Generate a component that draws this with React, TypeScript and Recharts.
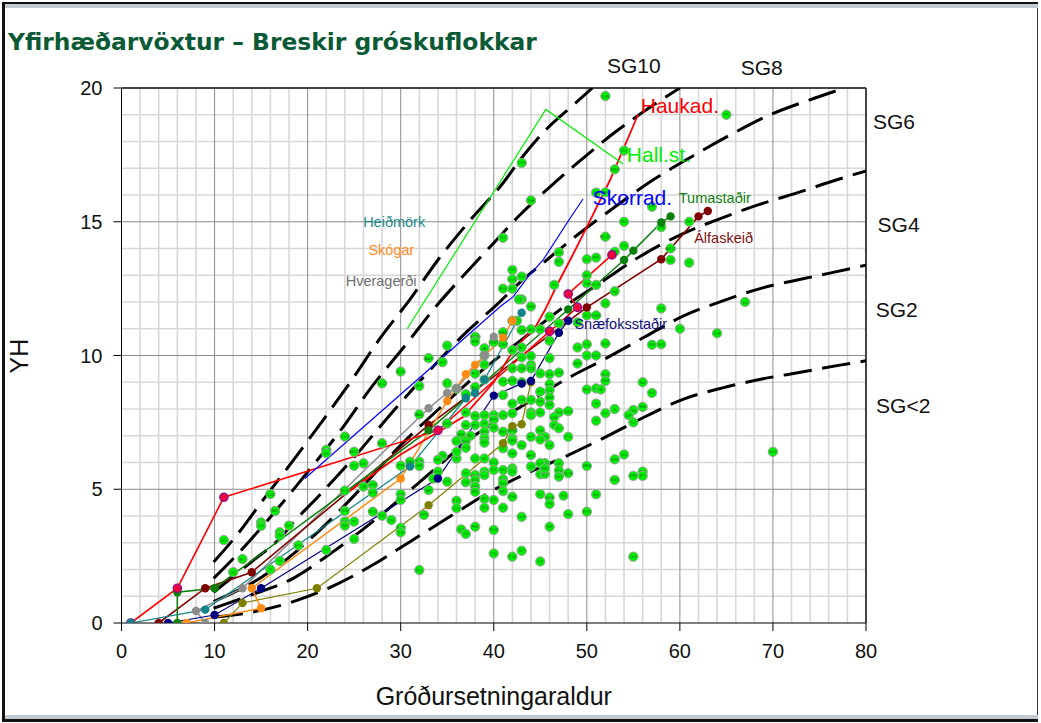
import React from 'react';
import { ComposedChart, Line, Scatter, XAxis, YAxis, ReferenceLine, ReferenceDot, Label } from 'recharts';

type Stand = [number, number, string];
type Pt = [number, number];

const titleText = 'Yfirhæðarvöxtur – Breskir gróskuflokkar';
const xAxisTitle = 'Gróðursetningaraldur';
const yAxisTitle = 'YH';
const xTicks = [0, 10, 20, 30, 40, 50, 60, 70, 80];
const yTicks = [0, 5, 10, 15, 20];
const minorX = [2, 4, 6, 8, 12, 14, 16, 18, 22, 24, 26, 28, 32, 34, 36, 38, 42, 44, 46, 48, 52, 54, 56, 58, 62, 64, 66, 68, 72, 74, 76, 78];
const minorY = [1, 2, 3, 4, 6, 7, 8, 9, 11, 12, 13, 14, 16, 17, 18, 19];
const majorX = [10, 20, 30, 40, 50, 60, 70];
const majorY = [5, 10, 15];

const standsYoung: Stand[] = [
  [16, 4.82, 'DJ3'], [16.5, 4.19, 'BK'], [15, 3.76, 'A4'], [15, 3.63, 'LD'], [18, 3.64, 'NT'], [17, 3.39, 'SU3'], [17, 3.26, 'TS'],
  [11, 3.1, 'SO'], [13, 2.39, 'EV'], [17, 2.32, 'G'], [16, 2.0, 'S'], [12, 1.9, 'G1'], [19, 2.9, 'HG'], [22, 2.73, 'G7'],
  [24, 4.19, 'KN'], [24, 3.79, 'D1'], [24, 3.64, 'E8'], [25, 3.79, 'FI'], [25, 3.14, 'C1'], [27, 4.16, 'NT3'], [28, 4.01, 'M2'],
  [29, 3.85, 'DF'], [30, 4.82, 'G8'], [30, 4.6, 'NR'], [30, 3.56, 'XS2'], [30, 3.39, 'YG'], [32.5, 4.04, 'KK5'], [32, 1.98, 'P41'],
  [24, 6.97, 'OV9'], [28, 6.72, 'BN1'], [22, 6.47, 'ME4'], [22, 6.35, 'D5'], [25, 6.4, 'MD2'], [25, 5.88, 'D7'], [26, 5.97, 'DD'],
  [30, 5.88, 'PM'], [31, 6.03, 'EM'], [32, 6.03, 'NW'], [32, 5.87, 'GE'], [27, 5.16, 'DS3'], [26, 5.1, 'QK'], [24, 4.95, 'NO5'],
  [27, 4.87, 'NZ3'], [30, 9.4, 'SG1'], [28, 8.96, 'MC2'], [32, 8.86, 'AS'], [32, 7.8, 'AA9'], [33, 9.9, 'AA3'], [35, 10.37, 'L5'], [34.5, 9.75, 'XX'],
];
const standsMiddle: Stand[] = [
  [38, 10.7, 'SU20'], [38, 10.52, 'ME'], [40, 10.5, 'DW1'], [41, 10.42, 'CA7'], [41, 10.87, 'S46'], [39, 10.27, 'IA'], [39, 10, 'AY'],
  [39, 9.66, 'JU'], [38, 9.32, 'FO'], [38, 8.82, 'AU'], [35, 8.96, 'KT'], [36, 8.76, 'YC'], [37, 8.55, 'OB'], [39, 9.1, 'CN3'],
  [37, 7.87, 'A1'], [38, 7.74, 'B3'], [39, 7.77, 'CP'], [40, 7.77, 'CK'], [40, 7.6, 'MP2'], [41, 7.77, 'LH'], [42, 7.84, 'D2'],
  [37, 7.4, 'HH'], [38, 7.4, 'BD'], [39, 7.44, 'IF'], [40, 7.3, 'H6'], [41, 7.15, 'ED'], [42, 7.2, 'NW4'], [36.5, 7.05, 'AW'],
  [37.5, 7, 'AV'], [36, 6.8, 'LO'], [37, 6.8, 'MS'], [39, 7.15, 'AX'], [39, 6.9, 'D3'], [39, 6.74, 'E6'], [37, 6.55, 'FO'],
  [42, 6.9, 'DS'], [42, 6.82, 'NM'], [43, 6.65, 'EU'], [41, 6.53, 'IZ'], [42, 6.34, 'KM'], [39, 6.15, 'GI'], [38, 6.15, 'QI'],
  [36, 6.15, '8'], [34.5, 6.25, 'D6'], [34, 6.1, 'AF'], [36, 6.4, 'C7'], [35, 7.46, 'DW2'], [34, 5.66, 'BM'], [33.5, 5.4, 'JO'],
  [33, 4.97, 'MF'], [35, 5.28, 'DS'], [40, 6, 'D11'], [40, 5.72, 'Q1'], [39, 5.66, 'ZV'], [41, 5.72, 'DU'], [42, 5.78, 'NT'],
  [42, 5.66, 'D4'], [37, 5.6, 'FT'], [38, 5.53, 'MS2'], [39, 5.53, 'LC'], [37, 5.26, 'OV'], [38, 5.35, 'DS'], [38, 5.1, 'JS'],
  [38, 4.9, 'BD'], [41, 5.37, 'MS'], [41, 5.22, 'EH'], [41, 4.93, 'EP'], [42, 4.72, 'PB1'], [39, 4.64, 'BD'], [40, 4.6, 'BP'],
  [39, 4.31, 'DO'], [41, 4.31, 'HJ'], [36, 4.57, 'E21'], [36, 4.29, 'CH'], [38, 3.6, 'FB'], [40, 3.48, 'FD8'], [36.5, 3.5, 'D2'],
  [37, 3.33, 'G3'], [40, 2.6, 'C5'], [42, 2.48, 'P42'], [43, 2.7, 'ST'], [45, 2.3, 'K3'], [43, 3.97, 'GG'], [46, 3.6, 'B8'],
];
const standsDense: Stand[] = [
  [42.5, 11.3, 'JC'], [43, 10.95, 'CM4'], [44, 10.98, 'AT'], [45, 10.98, 'SH'], [46, 11.45, 'D7'], [47, 11.2, 'SC'], [46, 10.55, 'DC2'],
  [43, 10.3, 'AC'], [43, 9.93, 'L1'], [44, 9.98, 'SZ'], [44, 9.65, 'SL'], [46, 9.9, 'GZ'], [42, 9.52, 'OF'], [43, 9.52, 'DB'],
  [44, 9.52, 'CD'], [45, 9.33, 'UL'], [46, 9.3, 'R3'], [47, 9.36, 'CM'], [46, 8.93, 'HS'], [46, 8.7, 'IO'], [46, 8.43, 'AM'],
  [45, 8.65, 'F7'], [45, 8.27, 'HE'], [46, 8.15, 'DR'], [42, 9.05, 'BM1'], [41, 9.02, 'CZ'], [43, 9, 'OH'], [41, 8.52, 'LJ'],
  [43, 8.34, 'OS'], [44, 8.34, 'CG'], [42, 8.2, 'MY'], [44, 7.87, 'M3'], [44, 7.77, 'L'], [45, 7.87, 'ED'], [47, 7.87, 'M7'],
  [48, 7.92, 'DS2'], [45, 7.2, 'RB'], [45.5, 6.96, 'OV'], [45, 6.86, 'CD'], [44, 6.96, 'HO'], [46, 6.65, 'DX'], [46.5, 7.7, 'DF'],
  [46.5, 7.4, 'BI'], [47, 7.28, 'IO'], [48, 6.96, 'PS'], [44, 6.28, 'AH1'], [47, 5.97, 'JP'], [45.5, 5.97, 'KS'], [45, 5.97, 'KO'],
  [44, 5.85, 'JU'], [45, 5.56, 'CU'], [45.5, 5.57, 'ZZ'], [45.5, 5.78, 'RE'], [47, 5.7, 'FG'], [47, 5.47, 'GU'], [48, 5.6, 'NZ3'],
  [45, 4.82, 'K7'], [46, 4.69, 'GX6'], [47.5, 4.76, 'K6'], [46, 4.45, 'FN'], [48, 4.07, 'FA'], [50, 4.16, 'K93'], [51, 4.81, 'E4'],
  [50, 5.87, 'GE6'], [53, 5.35, 'DN1'], [53, 6.12, 'DN2'], [54, 6.3, 'SU'], [55, 5.5, 'HW'], [56, 5.66, 'BC'], [56, 5.5, 'ET'], [55, 2.48, 'GJ'],
  [50, 8.73, 'MX'], [51, 8.77, 'LK'], [51.5, 8.73, 'IR'], [51, 8.2, 'LE'], [53, 8, 'JL'], [52, 7.84, 'PL'], [51, 7.56, 'I4'],
  [55, 7.96, 'GD'], [56, 8.08, 'M8'], [54.5, 7.77, 'DP'], [55, 7.5, 'LP'], [52, 9.3, 'EQ'], [52, 9.05, 'NM'], [56, 9, 'S6'], [57, 8.6, 'E1'],
  [49, 9.7, 'BW'],
];
const standsOld: Stand[] = [
  [52, 19.7, 'DW'], [65, 19, 'P6'], [54, 17.66, 'G3'], [53, 16.96, 'RB3'], [43, 17.2, 'C20'], [51, 16.09, 'LR'], [52, 16.1, 'BF'],
  [44, 15.8, 'MA'], [57, 15.56, 'PP'], [54, 15, 'RS'], [61, 15, 'BF'], [58, 14.8, 'P8'], [52, 14.44, 'NC10'], [54, 14.1, 'O6'],
  [53, 13.88, 'DD'], [59, 14, 'AA11'], [59, 13.57, 'MX'], [61, 13.47, 'I9'], [50, 13.6, 'QC'], [51, 13.66, 'RP'], [47, 13.86, 'ES'],
  [47, 13.5, 'KD'], [50, 13, 'MP'], [50, 12.7, 'CA'], [51, 12.64, 'OQ3'], [53, 12.4, 'H4'], [46.5, 12.64, 'SJ'], [52, 11.95, 'D1'],
  [58, 11.76, 'G7'], [50, 11.5, 'NJ'], [51, 11.5, 'DW6'], [44, 11.83, 'MN'], [43, 12.1, 'L4'], [43, 12.95, 'PH'], [49, 11.24, 'PS'],
  [60, 11, 'PP'], [64, 10.83, 'CG'], [67, 12, 'S2'], [49, 10.3, 'L8'], [50, 10.42, 'O6'], [52, 10.45, 'S42'], [57, 10.4, 'M3'],
  [58, 10.42, 'ED'], [50, 10, 'J4'], [51, 10, 'E22'], [41, 14.4, 'S3'], [42, 13.2, 'P8'], [42, 12.85, 'OV6'], [41, 12.5, 'RG'],
  [42, 12.5, 'B2'], [42.7, 12.1, 'O1'], [42, 11.3, 'IS'], [42, 10.2, 'AL'], [70, 6.4, 'GJ7'],
];
const stands: Stand[] = [...standsYoung, ...standsMiddle, ...standsDense, ...standsOld];

const sgCurve10: Pt[] = [[9.9, 2.28], [12.4, 3.29], [15.4, 4.69], [18.8, 6.24], [21.9, 7.7], [24.9, 9.16], [27.8, 10.65], [31, 12.1], [34, 13.57], [37.4, 15.03], [41, 16.45], [42.8, 17.3], [45.5, 18.4], [48.8, 19.44], [50.6, 20]];
const sgCurve8: Pt[] = [[9.9, 1.67], [12.8, 2.7], [16.1, 4], [19.9, 5.6], [24.2, 7.51], [26.4, 8.6], [30.7, 10.47], [34.1, 11.96], [36.7, 12.97], [40.3, 14.32], [42.8, 15.25], [45.9, 16.26], [49, 17.2], [53.2, 18.39], [57.5, 19.44], [60, 20]];
const sgCurve6: Pt[] = [[9.9, 1.15], [14, 2.3], [17.2, 3.23], [18.45, 3.75], [21.2, 4.75], [24.9, 6.16], [29.4, 8], [33, 9.4], [37.2, 10.92], [40.3, 11.89], [42.7, 12.7], [45.7, 13.57], [48.7, 14.43], [53, 15.55], [57.1, 16.56], [61.4, 17.46], [65.6, 18.28], [69.7, 19], [73.9, 19.55], [77.7, 20]];
const sgCurve4: Pt[] = [[9.9, 0.8], [15, 1.7], [18.3, 2.54], [21.4, 3.5], [25.4, 4.91], [30, 6.65], [34.7, 8.19], [38.8, 9.46], [43.1, 10.62], [47.4, 11.78], [51.6, 12.75], [55.8, 13.72], [60, 14.5], [64.2, 15.1], [68.4, 15.63], [72.5, 16.07], [76.8, 16.56], [80, 16.9]];
const sgCurve2: Pt[] = [[9.9, 0.55], [14.2, 1.08], [18.45, 1.67], [22.6, 2.63], [27.6, 3.96], [33.9, 5.83], [37.3, 6.84], [43, 8.1], [47.8, 9.12], [52.1, 9.9], [56.2, 10.69], [60.4, 11.48], [64.6, 12.04], [68.8, 12.52], [73.1, 12.86], [76.1, 13.08], [80, 13.38]];
const sgCurveLow: Pt[] = [[10, 0.22], [14.1, 0.41], [18.45, 0.8], [22.6, 1.36], [26.8, 2.13], [31, 3.04], [35.2, 3.96], [39.4, 4.86], [42.5, 5.42], [47.8, 6.24], [52, 6.95], [56.2, 7.7], [60.4, 8.37], [64.6, 8.79], [68.8, 9.12], [73.1, 9.38], [77.2, 9.64], [80, 9.8]];

const haukadLine: Pt[] = [[24, 4.8], [30, 6.3], [36.7, 7.7], [40, 9], [41.7, 9.96], [42.8, 10.45], [44.6, 11.14], [45.5, 11.7], [46.9, 12.7], [48.4, 13.7], [50, 14.8], [52.5, 16.56], [55.5, 19]];
const redPlot: Pt[] = [[1, 0], [6, 1.3], [11, 4.7], [34, 7.2], [46, 10.9], [49, 11.8], [48, 12.3], [52.7, 13.76]];
const hallLine: Pt[] = [[30.7, 11], [45.6, 19.2], [53.9, 17.16]];
const skorradLine: Pt[] = [[19.7, 5.4], [34.2, 9.83], [40.7, 11.83], [42.1, 12.2], [43.7, 12.95], [45.3, 13.57], [48.2, 15.13], [49.6, 15.85]];
const tumastadir: Pt[] = [[6, 0], [6, 1.15], [10, 1.3], [33, 7.2], [48, 11.72], [54, 13.57], [55, 13.92], [58, 14.97], [59, 15.2]];
const alfaskeid: Pt[] = [[4, 0], [9, 1.3], [14, 1.9], [33, 7.4], [50, 11.8], [58, 13.6], [62, 15.2], [63, 15.4]];
const snaefoks: Pt[] = [[5, 0], [10, 0.3], [15, 1.3], [34, 5.4], [40, 8.5], [43, 8.95], [44, 9.05], [47, 10.85], [48, 11.3]];
const skogar: Pt[] = [[7, 0], [15, 0.55], [14, 1.3], [30, 5.4], [35, 8.3], [37, 9.3], [38, 9.65], [41, 10.67], [42, 11.3]];
const heidmork: Pt[] = [[1, 0], [9, 0.5], [31, 5.85], [37, 8.4], [38, 8.6], [39, 9.1], [43, 11.6]];
const hveragerdi: Pt[] = [[9, 0], [8, 0.45], [13, 1.3], [33, 8.03], [35, 8.6], [36, 8.77], [39, 10], [40, 10.7]];
const oliveLine: Pt[] = [[11, 0], [13, 0.75], [21, 1.3], [33, 4.4], [41, 6.72], [42, 7.36], [43, 7.43], [44, 9]];

const sgLabels: [number, number, string][] = [
  [55.05, 20.85, 'SG10'], [68.8, 20.78, 'SG8'], [83, 18.73, 'SG6'], [83.5, 14.9, 'SG4'], [83.3, 11.7, 'SG2'], [84, 8.13, 'SG<2'],
];
const siteLabels: [number, number, string, string, number][] = [
  [60, 19.33, 'Haukad.', '#ff0000', 21], [57.75, 17.5, 'Hall.st.', '#00ee00', 21], [54.9, 15.92, 'Skorrad.', '#0000ff', 21],
  [63.75, 15.9, 'Tumastaðir', '#108010', 14.5], [64.7, 14.4, 'Álfaskeið', '#801010', 14.5], [53.65, 11.18, 'Snæfoksstaðir', '#101080', 14.5],
  [29.3, 15, 'Heiðmörk', '#1a8a8a', 14.5], [29, 13.95, 'Skógar', '#ff8a20', 14.5], [27.9, 12.8, 'Hveragerði', '#707070', 14.5],
];

const toRows = (pts: Pt[]) => pts.map(([x, y]) => ({ x, y }));
const standRows = stands.map(([x, y, tag]) => ({ x, y, tag }));

const StandMark = (props: any) => {
  const { cx, cy, payload } = props;
  return (
    <g>
      <circle cx={cx} cy={cy} r={4.7} fill="#00ee00" stroke="#a0a0a0" strokeWidth={1} />
      <text x={cx} y={cy + 1.5} textAnchor="middle" fontSize={4.4} fill="#0a7a1a">{payload.tag}</text>
    </g>
  );
};

const dotOf = (fill: string, stroke?: string) => (props: any) => (
  <circle key={props.index} cx={props.cx} cy={props.cy} r={4.2} fill={fill} stroke={stroke || fill} strokeWidth={stroke ? 1.2 : 0} />
);

export default function App() {
  const curves = [sgCurve10, sgCurve8, sgCurve6, sgCurve4, sgCurve2, sgCurveLow];
  const series: [Pt[], string, number, any][] = [
    [oliveLine, '#808000', 1.2, dotOf('#808000')],
    [hveragerdi, '#8c8c8c', 1.5, dotOf('#8c8c8c')],
    [snaefoks, '#000080', 1.2, dotOf('#000080')],
    [alfaskeid, '#800000', 1.6, dotOf('#800000')],
    [tumastadir, '#0a800a', 1.5, dotOf('#0a800a')],
    [redPlot, '#ff0000', 1.6, dotOf('#f0003c', '#80109a')],
    [heidmork, '#108488', 1.2, dotOf('#108488')],
    [skogar, '#ff8a14', 1.5, dotOf('#ff8a14')],
    [haukadLine, '#ff0000', 1.8, false],
    [hallLine, '#00ee00', 1.2, false],
    [skorradLine, '#0000ff', 1.2, false],
  ];
  return (
    <div style={{ position: 'absolute', left: 0, top: 0, width: 1041, height: 723, background: '#fff', fontFamily: '"Liberation Sans", Arial, sans-serif', overflow: 'hidden' }}>
      <div style={{ position: 'absolute', left: 2, top: 2, width: 1036, height: 720, boxSizing: 'border-box', borderTop: '2px solid #111', borderLeft: '3px solid #111', borderRight: '1px solid #333', borderBottom: '3px solid #111' }} />
      <div style={{ position: 'absolute', left: 5, top: 4, width: 1033, height: 4, background: '#c0cad0' }} />
      <div style={{ position: 'absolute', left: 5, top: 715, width: 1033, height: 4, background: '#c0cad0' }} />
      <div style={{ position: 'absolute', left: 8, top: 28, fontFamily: '"DejaVu Sans", sans-serif', fontWeight: 700, fontSize: 23.4, color: '#0b5a36', whiteSpace: 'nowrap' }}>{titleText}</div>
      <ComposedChart width={1041} height={723} margin={{ top: 88, right: 175, bottom: 40, left: 21.5 }} style={{ position: 'absolute', left: 0, top: 0 }}>
        <XAxis type="number" dataKey="x" domain={[0, 80]} ticks={xTicks} interval={0} height={60} tickSize={8} tickMargin={13} tick={{ fontSize: 20, fill: '#111' }} stroke="#000" allowDataOverflow>
          <Label value={xAxisTitle} position="insideBottom" offset={-22} style={{ fontSize: 25, fill: '#111' }} />
        </XAxis>
        <YAxis type="number" dataKey="y" domain={[0, 20]} ticks={yTicks} interval={0} width={100} tickSize={8} tickMargin={11} tick={{ fontSize: 20, fill: '#111' }} stroke="#000" allowDataOverflow>
          <Label value={yAxisTitle} angle={-90} position="insideLeft" offset={-8} dy={18} dx={6} style={{ fontSize: 25, fill: '#111' }} />
        </YAxis>
        {minorX.map(v => <ReferenceLine key={'mx' + v} x={v} stroke="#d8d8d8" strokeWidth={1.6} />)}
        {minorY.map(v => <ReferenceLine key={'my' + v} y={v} stroke="#d8d8d8" strokeWidth={1.6} />)}
        {majorX.map(v => <ReferenceLine key={'Mx' + v} x={v} stroke="#8c8c8c" strokeWidth={1} />)}
        {majorY.map(v => <ReferenceLine key={'My' + v} y={v} stroke="#8c8c8c" strokeWidth={1} />)}
        <ReferenceLine x={80} stroke="#444" strokeWidth={2} />
        <ReferenceLine y={20} stroke="#444" strokeWidth={2} />
        <Scatter data={standRows} isAnimationActive={false} shape={StandMark} />
        {curves.map((c, i) => (
          <Line key={'sg' + i} data={toRows(c)} dataKey="y" type="monotone" stroke="#000" strokeWidth={3} strokeDasharray="28.5 10.5" dot={false} activeDot={false} isAnimationActive={false} />
        ))}
        {series.map(([pts, color, w, dot], i) => (
          <Line key={'s' + i} data={toRows(pts)} dataKey="y" type="linear" stroke={color} strokeWidth={w} dot={dot} activeDot={false} isAnimationActive={false} />
        ))}
        {sgLabels.map(([x, y, t]) => (
          <ReferenceDot key={t} x={x} y={y} r={0} ifOverflow="visible" fill="none" stroke="none" label={{ value: t, position: 'center', fontSize: 21, fill: '#111' }} />
        ))}
        {siteLabels.map(([x, y, t, c, s]) => (
          <ReferenceDot key={t} x={x} y={y} r={0} ifOverflow="visible" fill="none" stroke="none" label={{ value: t, position: 'center', fontSize: s, fill: c }} />
        ))}
      </ComposedChart>
    </div>
  );
}
